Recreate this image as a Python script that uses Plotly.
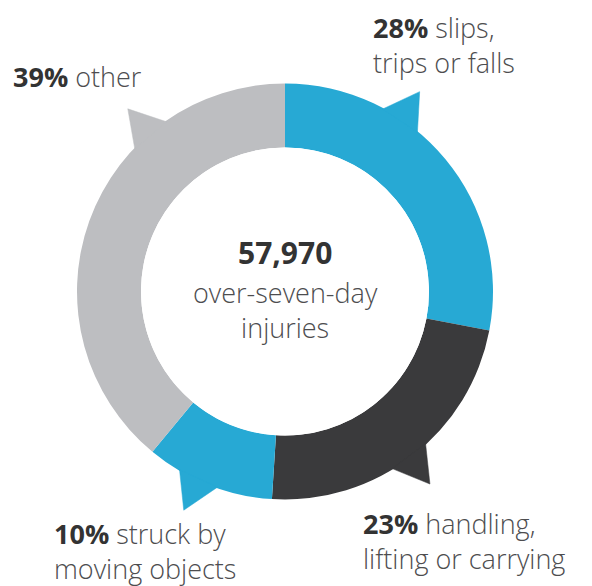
import plotly.graph_objects as go

# ---- data ----
categories = ["slips, trips or falls", "handling, lifting or carrying",
              "struck by moving objects", "other"]
percent = [28, 23, 10, 39]
label_first = ["slips,", "handling,", "struck by", "other"]
label_second = ["trips or falls", "lifting or carrying", "moving objects", ""]
total_injuries = 57970
center_lines = ["over-seven-day", "injuries"]

# ---- style ----
colors = ["#27a9d4", "#3a3a3c", "#27a9d4", "#bdbec1"]
pointer_frac = [0.337, 0.51, 0.59, 0.71]   # where the pointer sits inside each segment
pointer_half = 5.8                          # degrees
OFF = 8                                     # page body margin
W, H = 592 - OFF, 586 - OFF
cx, cy = 285 - OFF, 291.5 - OFF
R_pol, r_in, r_out, r_tip = 245, 144, 208, 241
ring = r_out - r_in
tip = r_tip - r_in

fig = go.Figure()

# ring segments
start = 0.0
thetas, widths = [], []
for p in percent:
    thetas.append((start + p / 2) * 3.6)
    widths.append(p * 3.6)
    start += p

fig.add_trace(go.Barpolar(
    r=[ring] * len(percent), theta=thetas, width=widths, base=0,
    marker=dict(color=colors, line=dict(width=0)),
    hoverinfo="skip", showlegend=False,
))

# speech-bubble pointers
start = 0.0
for p, f, c in zip(percent, pointer_frac, colors):
    a = (start + p * f) * 3.6
    fig.add_trace(go.Scatterpolar(
        r=[ring - 1, tip, ring - 1, ring - 1],
        theta=[a - pointer_half, a, a + pointer_half, a - pointer_half],
        mode="lines", fill="toself", fillcolor=c,
        line=dict(color=c, width=0.5),
        hoverinfo="skip", showlegend=False,
    ))
    start += p

fig.update_layout(
    width=W, height=H,
    margin=dict(l=0, r=0, t=0, b=0),
    paper_bgcolor="white",
    polar=dict(
        domain=dict(x=[(cx - R_pol) / W, (cx + R_pol) / W],
                    y=[1 - (cy + R_pol) / H, 1 - (cy - R_pol) / H]),
        hole=r_in / R_pol,
        bgcolor="white",
        radialaxis=dict(range=[0, R_pol - r_in], visible=False),
        angularaxis=dict(rotation=90, direction="clockwise", visible=False),
    ),
)

FONT = "'Open Sans', Lato, sans-serif"
label_pos = [(371, 45), (361, 541), (52, 551), (11, 76)]  # left x, middle y (page px)

annotations = []
for p, l1, l2, (x, y) in zip(percent, label_first, label_second, label_pos):
    txt = f"<span style='color:#333333'><b>{p}%</b></span> {l1}"
    if l2:
        txt += f"<br>{l2}"
    annotations.append(dict(
        x=(x - OFF) / W, y=1 - (y - OFF) / H, xref="paper", yref="paper",
        xanchor="left", yanchor="middle", align="left", showarrow=False,
        text=txt, font=dict(family=FONT, size=27, color="#4d4d4f", weight=300),
    ))

annotations.append(dict(
    x=cx / W, y=1 - (253 - OFF) / H, xref="paper", yref="paper",
    xanchor="center", yanchor="middle", showarrow=False,
    text=f"<b>{total_injuries:,}</b>",
    font=dict(family=FONT, size=30, color="#333333"),
))
annotations.append(dict(
    x=cx / W, y=1 - (310 - OFF) / H, xref="paper", yref="paper",
    xanchor="center", yanchor="middle", align="center", showarrow=False,
    text="<br>".join(center_lines),
    font=dict(family=FONT, size=27, color="#4d4d4f", weight=300),
))
fig.update_layout(annotations=annotations)

fig.write_html("out.html")
